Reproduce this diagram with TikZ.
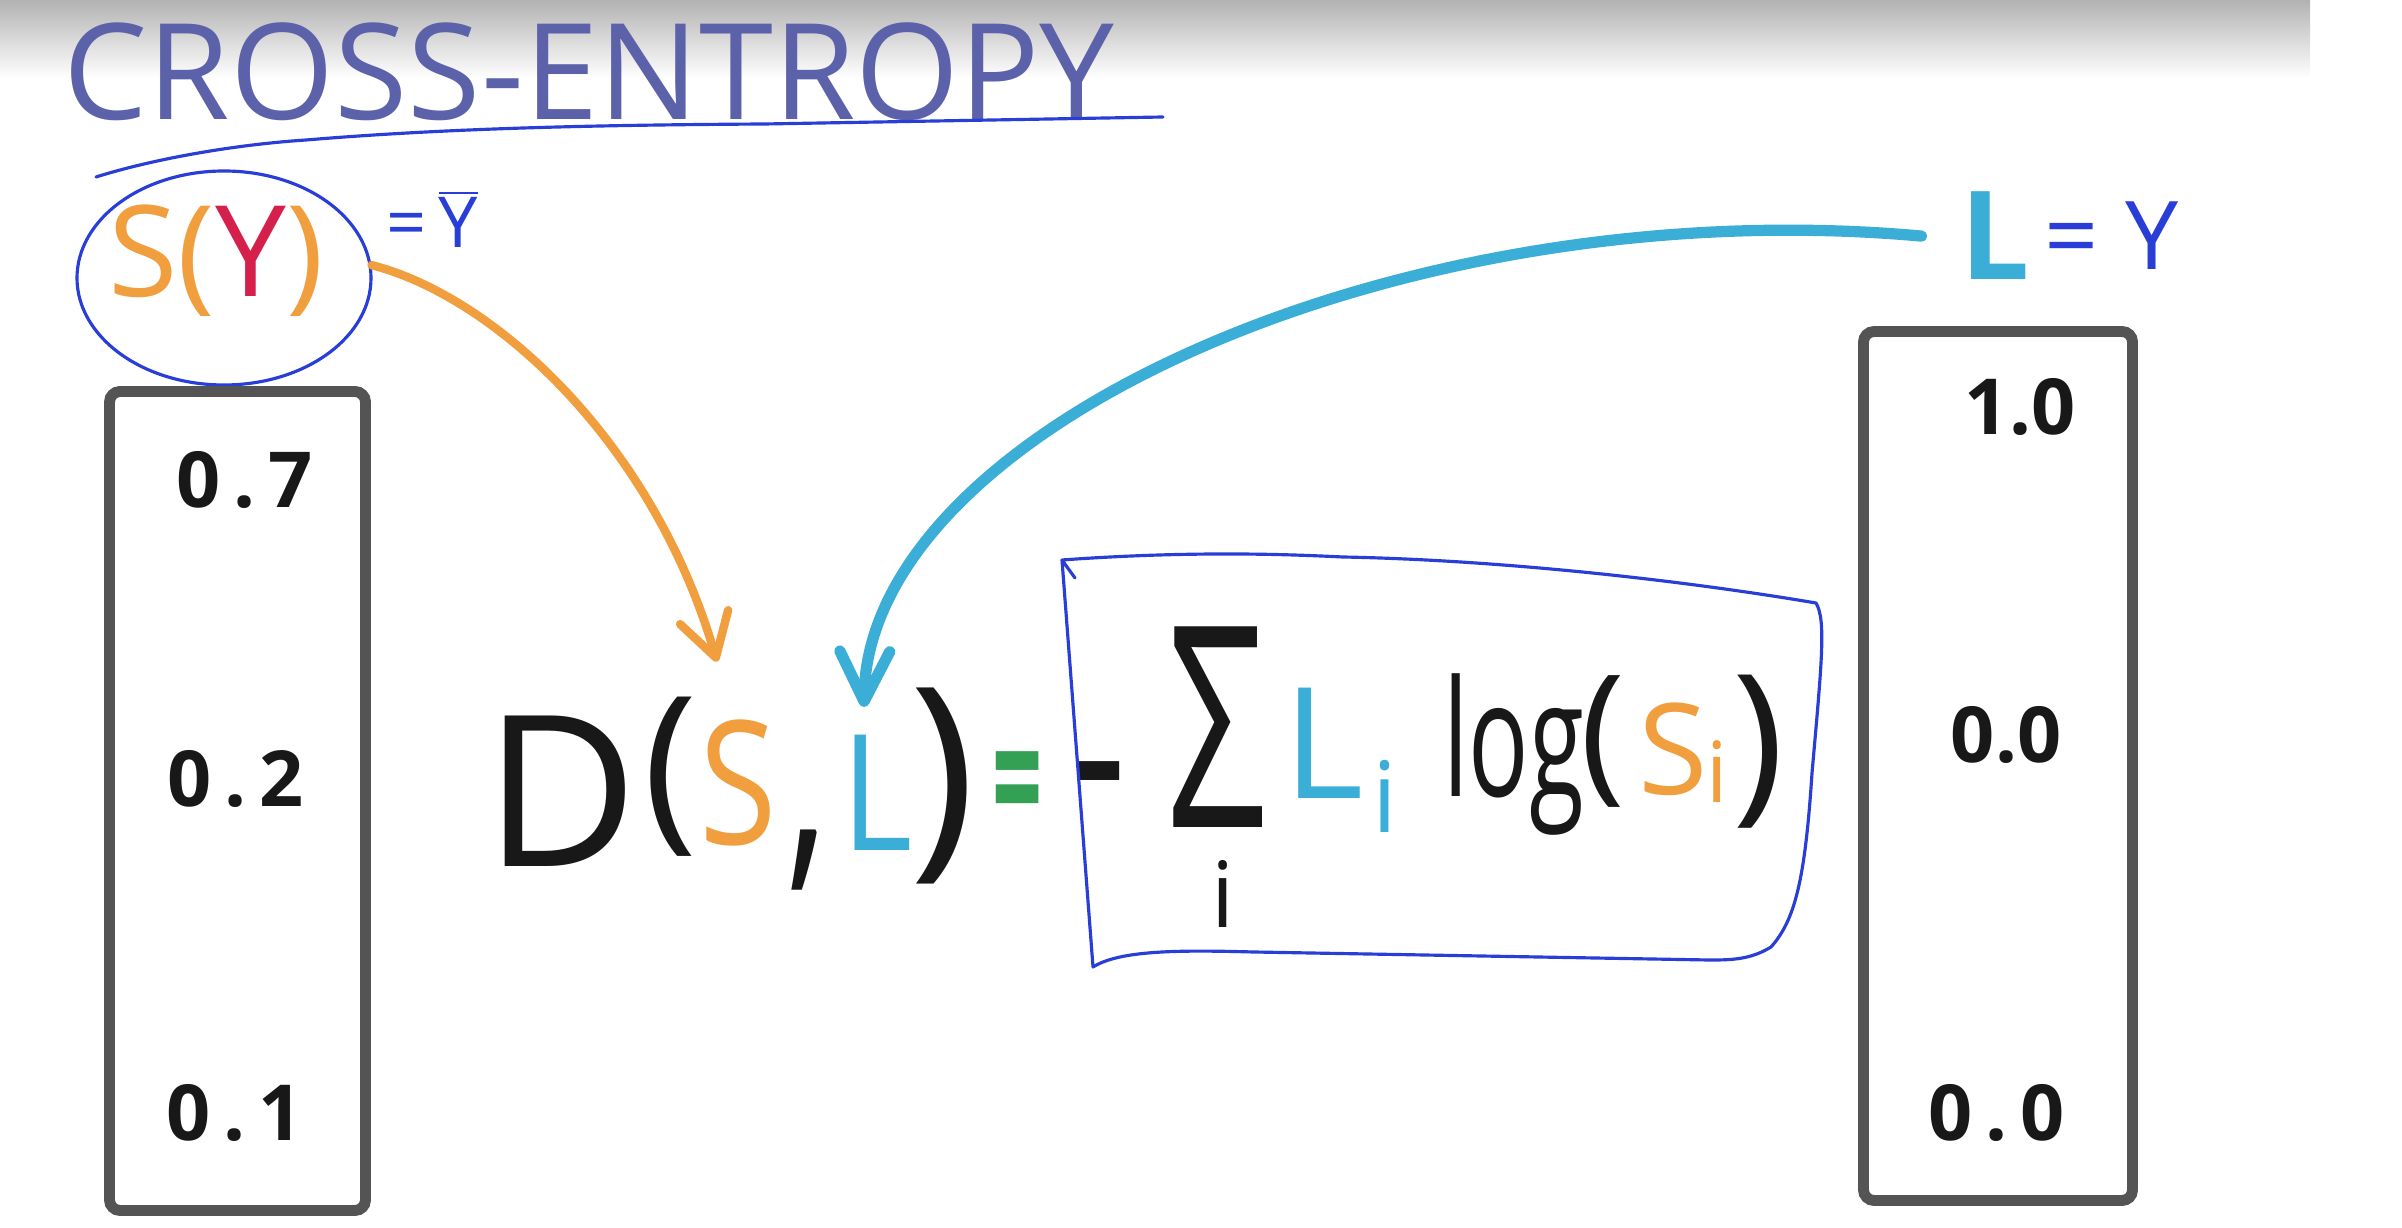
\documentclass[tikz,border=0pt]{standalone}
\usepackage{fontspec}
\setmainfont{Open Sans}
\usetikzlibrary{arrows.meta,shapes.geometric}

\definecolor{ink}{RGB}{24,24,24}
\definecolor{titleblue}{RGB}{92,98,170}
\definecolor{penblue}{RGB}{40,62,214}
\definecolor{lcyan}{RGB}{58,174,214}
\definecolor{sorange}{RGB}{240,158,62}
\definecolor{yred}{RGB}{214,32,76}
\definecolor{eqgreen}{RGB}{52,160,84}
\definecolor{boxgray}{RGB}{84,84,84}

\begin{document}
\begin{tikzpicture}[
    % Node styles
    glyph/.style={
        inner sep=0pt,
        text=ink,
        font=\fontsize{#1}{#1}\selectfont
    },
    value/.style={
        inner sep=0pt,
        text=ink,
        font=\fontsize{22}{22}\selectfont\bfseries
    },
    vecbox/.style={
        rectangle,
        rounded corners=3pt,
        draw=boxgray,
        line width=3.1pt,
        inner sep=0pt
    },
    pen/.style={
        draw=penblue,
        line width=0.9pt,
        line cap=round,
        line join=round
    },
    arrow/.style={
        -{Straight Barb[length=#1,width=5mm,round]},
        line cap=round
    }
]

\useasboundingbox (0,0) rectangle (24.02,-12.28);

% ===== Top band and title =====

\shade[top color=black!30, bottom color=white] (0,0) rectangle (23.1,-0.78);

\node[font=\fontsize{38}{38}\selectfont, text=titleblue, inner sep=0pt,
    anchor=base west] (title) at (0.63,-1.20) {CROSS-ENTROPY};

\draw[pen] (0.96,-1.77) .. controls (1.5,-1.60) and (2.3,-1.45) .. (3.06,-1.40)
    .. controls (4.5,-1.28) and (6,-1.25) .. (7.65,-1.24) -- (11.63,-1.17);

% ===== S(Y) and its vector =====

\node[ellipse, pen, minimum width=2.94cm, minimum height=2.14cm, inner sep=0pt]
    (syring) at (2.24,-2.78) {};
\node[glyph=36] (sy) at (2.16,-2.61)
    {\textcolor{sorange}{S(}\textcolor{yred}{Y}\textcolor{sorange}{)}};
\node[glyph=20, text=penblue, anchor=base west] (syeq) at (3.86,-2.48)
    {=\,\(\overline{\mbox{Y}}\)};

\node[vecbox, minimum width=2.56cm, minimum height=8.19cm] (svec) at (2.375,-8.01) {};
\node[value] (s1) at (2.45,-4.80) {0\,.\,7};
\node[value] (s2) at (2.36,-7.79) {0\,.\,2};
\node[value] (s3) at (2.35,-11.13) {0\,.\,1};

% ===== L and its vector =====

\node[glyph=35, text=lcyan, font=\fontsize{35}{35}\selectfont\bfseries, anchor=base]
    (lbl) at (19.95,-2.80) {L};
\node[glyph=27, text=penblue, anchor=base west] (leq) at (20.44,-2.70) {=\;Y};

\node[vecbox, minimum width=2.69cm, minimum height=8.69cm] (lvec) at (19.98,-7.66) {};
\node[value] (l1) at (20.20,-4.07) {1.0};
\node[value] (l2) at (20.06,-7.35) {0.0};
\node[value] (l3) at (19.97,-11.13) {0\,.\,0};

% ===== Formula =====

\node[glyph=60, anchor=base] (fD) at (5.61,-8.67) {D};
\node[glyph=52] (fpl) at (6.71,-7.77) {(};
\node[glyph=49, text=sorange, anchor=base] (fS) at (7.38,-8.45) {\scalebox{0.82}[1]{S}};
\node[glyph=70, anchor=base] (fcomma) at (8.08,-8.58) {\scalebox{0.7}[1]{,}};
\node[glyph=46, text=lcyan, anchor=base] (fL) at (8.77,-8.51) {\scalebox{0.85}[1]{L}};
\node[glyph=64] (fpr) at (9.43,-7.86) {)};
\node[glyph=50, text=eqgreen, font=\fontsize{50}{50}\selectfont\bfseries, anchor=base]
    (feq) at (10.18,-8.40) {\scalebox{0.5}[1]{=}};

\node[glyph=44, font=\fontsize{44}{44}\selectfont\bfseries, anchor=base]
    (fminus) at (10.99,-8.13) {-};
\node[glyph=80] (fsum) at (12.17,-7.27) {\scalebox{0.62}[1]{Σ}};
\node[glyph=26, anchor=base] (fsumi) at (12.23,-9.28) {i};
\node[glyph=44, text=lcyan, anchor=base] (fLi) at (13.24,-7.99) {L};
\node[glyph=28, text=lcyan, anchor=base] (fLisub) at (13.85,-8.32) {i};
\node[glyph=46, anchor=base] (flog) at (15.14,-7.97) {\scalebox{0.62}[1]{log}};
\node[glyph=43] (fpl2) at (16.03,-7.42) {(};
\node[glyph=36, text=sorange, anchor=base] (fSi) at (16.73,-7.95) {S};
\node[glyph=24, text=sorange, anchor=base] (fSisub) at (17.17,-8.03) {i};
\node[glyph=50] (fpr2) at (17.58,-7.52) {)};

% hand-drawn frame round the sum
\draw[pen] (10.75,-5.78) -- (10.62,-5.60)
    .. controls (12.0,-5.50) and (13.0,-5.55) .. (13.43,-5.57)
    .. controls (15.0,-5.60) and (16.8,-5.80) .. (18.16,-6.03)
    .. controls (18.26,-6.20) and (18.22,-6.60) .. (18.12,-7.73)
    .. controls (18.05,-8.80) and (17.95,-9.20) .. (17.71,-9.47)
    .. controls (17.50,-9.60) and (17.30,-9.60) .. (17.09,-9.60)
    -- (12.54,-9.52)
    .. controls (11.80,-9.50) and (11.20,-9.50) .. (10.93,-9.67)
    -- (10.62,-5.60);

% ===== Arrows =====

\draw[arrow=4.2mm, line width=2.4pt, sorange] (syring.5)
    .. controls +(1.25,-0.32) and +(-0.63,2.17) ..
    ([xshift=-0.21cm, yshift=0.58cm]fS.north);

\draw[arrow=5mm, line width=3.2pt, lcyan] ([xshift=-0.38cm]lbl.west)
    .. controls +(-5.23,0.47) and +(0.04,2.77) ..
    ([xshift=-0.13cm, yshift=0.28cm]fL.north);

\end{tikzpicture}
\end{document}
